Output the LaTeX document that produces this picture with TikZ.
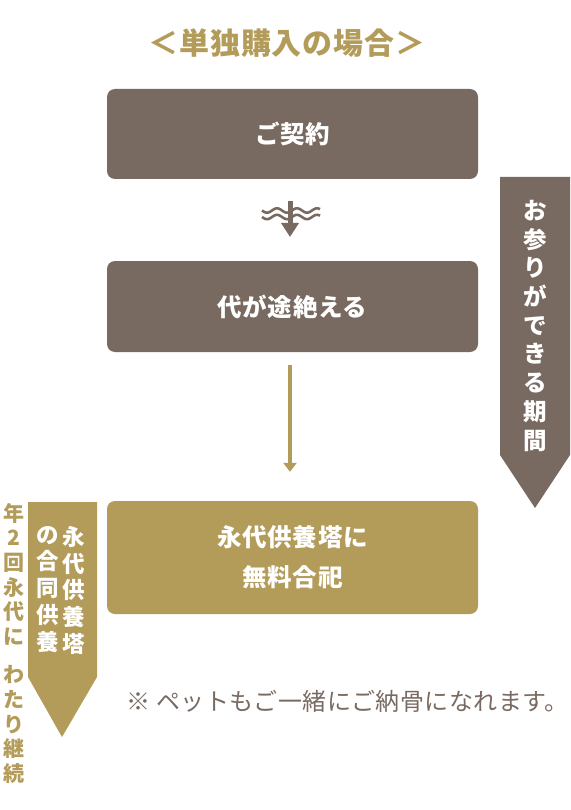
\documentclass[tikz,border=0pt]{standalone}
\usepackage{fontspec}
\setmainfont{Noto Sans CJK JP}
\usetikzlibrary{arrows.meta}
\definecolor{brn}{HTML}{796A61}
\definecolor{gld}{HTML}{B39B5A}
\begin{document}
\begin{tikzpicture}[x=1pt,y=-1pt,
  box/.style={rounded corners=8pt, minimum width=371pt, inner sep=0pt, text=white, font=\bfseries\fontsize{24.5}{40}\selectfont\addfontfeatures{LetterSpace=3}, align=center},
  vtext/.style={inner sep=0pt, align=center, anchor=north},
]
\useasboundingbox (0,0) rectangle (570,810);
% title
\node[text=gld, font=\bfseries\fontsize{30}{30}\selectfont\addfontfeatures{LetterSpace=3}] (title) at (287,43) {＜単独購入の場合＞};
% boxes
\node[box, fill=brn, minimum height=90pt] (b1) at (292.5,134) {ご契約};
\node[box, fill=brn, minimum height=91pt] (b2) at (292.5,306.5) {代が途絶える};
\node[box, fill=gld, minimum height=113pt] (b3) at (292.5,557.5) {永代供養塔に\\無料合祀};
% wavy connector
\coordinate (w1) at (290,201);
\coordinate (w2) at (290,237);
\draw[brn, line width=5pt, -{Triangle[width=17pt,length=14pt]}] (w1) -- (w2);
\draw[brn, line width=2.6pt] plot[domain=262:320, samples=80] (\x, {210.5+2.2*sin((\x-262)*18)});
\draw[brn, line width=2.6pt] plot[domain=262:320, samples=80] (\x, {217+2.2*sin((\x-262)*18)});
% gold connector
\draw[gld, line width=4pt, -{Triangle[width=13pt,length=9pt]}, shorten <=13pt, shorten >=29pt] (b2.south -| 290,0) -- (b3.north -| 290,0);
% right arrow
\fill[brn] (500,177) -- (570,177) -- (570,455) -- (535,508) -- (500,455) -- cycle;
\node[vtext, text=white, font=\bfseries\fontsize{23.5}{28.7}\selectfont] (rt) at (535,200) {お\\参\\り\\が\\で\\き\\る\\期\\間};
% left arrow
\fill[gld] (28,502) -- (97,502) -- (97,677) -- (62,737) -- (28,677) -- cycle;
\node[vtext, text=white, font=\bfseries\fontsize{22.5}{26.7}\selectfont] (lt1) at (74,526) {永\\代\\供\\養\\塔};
\node[vtext, text=white, font=\bfseries\fontsize{22.5}{26.7}\selectfont] (lt2) at (48,526) {の\\合\\同\\供\\養};
% side text
\node[vtext, text=gld, font=\bfseries\fontsize{21}{24.6}\selectfont] (side) at (13.5,503) {年\\2\\回\\永\\代\\に\\[14pt]わ\\た\\り\\継\\続};
% note
\node[anchor=west, inner sep=0pt, text=brn, font=\fontsize{24}{26}\selectfont\addfontfeatures{LetterSpace=2}] (note) at (126,701) {※ ペットもご一緒にご納骨になれます。};
\end{tikzpicture}
\end{document}
